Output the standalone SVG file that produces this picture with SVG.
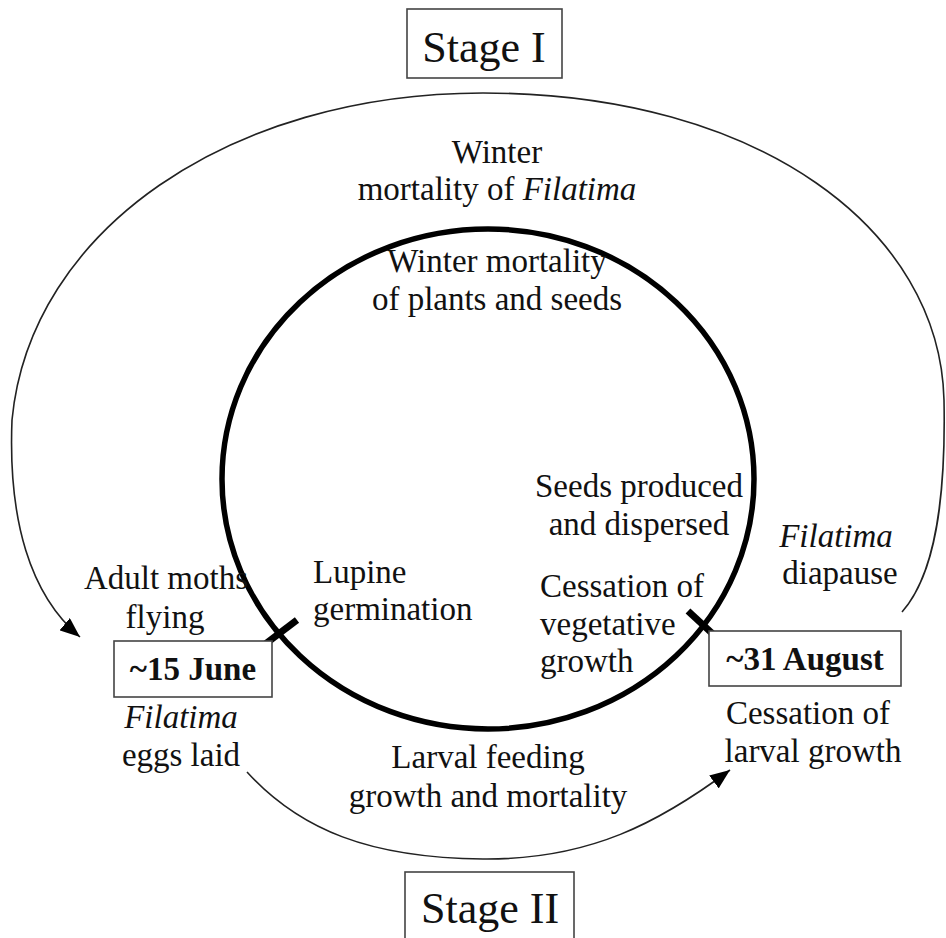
<svg xmlns="http://www.w3.org/2000/svg" width="946" height="938" viewBox="0 0 946 938">
<style>
.t{font-family:"Liberation Serif","Times New Roman",serif;font-size:33px;fill:#111}
.c{text-anchor:middle}
.b{font-weight:bold}
.i{font-style:italic}
.st{font-family:"Liberation Serif","Times New Roman",serif;font-size:44px;fill:#111;text-anchor:middle}
.box{fill:#fff;stroke:#444;stroke-width:1.6}
.conn{fill:none;stroke:#222;stroke-width:1.6}
.tick{stroke:#000;stroke-width:7}
</style>
<defs>
<marker id="arr" viewBox="0 0 20 16" refX="20" refY="8" markerWidth="20" markerHeight="16" orient="auto" markerUnits="userSpaceOnUse"><path d="M0,0 L20,8 L0,16 z" fill="#000"/></marker>
</defs>
<rect width="946" height="938" fill="#fff"/>
<g id="connectors">
<path class="conn" d="M 902,612 C 935,575 946,500 944,400 C 940,230 760,93 483,93 C 230,93 30,230 12,420 C 8,520 30,595 80,637" marker-end="url(#arr)"/>
<path class="conn" d="M 247,772 C 300,830 370,858 483,859 C 590,860 660,822 730,770" marker-end="url(#arr)"/>
</g>
<g id="cycle">
<ellipse cx="488" cy="479" rx="266" ry="250" fill="none" stroke="#000" stroke-width="5.5"/>
<line class="tick" x1="264" y1="645" x2="297" y2="620"/>
<line class="tick" x1="688" y1="611" x2="715" y2="636"/>
</g>
<g id="stage1">
<rect class="box" x="407" y="9" width="155" height="69"/>
<text class="st" x="484" y="62">Stage I</text>
</g>
<g id="stage2">
<rect class="box" x="405" y="872" width="169" height="80"/>
<text class="st" x="490" y="923">Stage II</text>
</g>
<g id="winter-filatima">
<text class="t c" x="497" y="163">Winter</text>
<text class="t c" x="497" y="200">mortality of <tspan class="i">Filatima</tspan></text>
</g>
<g id="winter-plants">
<text class="t c" x="497" y="272">Winter mortality</text>
<text class="t c" x="497" y="310">of plants and seeds</text>
</g>
<g id="seeds">
<text class="t c" x="639" y="497">Seeds produced</text>
<text class="t c" x="639" y="535">and dispersed</text>
</g>
<g id="diapause">
<text class="t c i" x="836" y="547">Filatima</text>
<text class="t c" x="840" y="584">diapause</text>
</g>
<g id="adult">
<text class="t c" x="166" y="589">Adult moths</text>
<text class="t c" x="165" y="628">flying</text>
</g>
<g id="lupine">
<text class="t" x="313" y="583">Lupine</text>
<text class="t" x="313" y="620">germination</text>
</g>
<g id="cessation-veg">
<text class="t" x="540" y="597">Cessation of</text>
<text class="t" x="540" y="635">vegetative</text>
<text class="t" x="540" y="672">growth</text>
</g>
<g id="june">
<rect class="box" x="114" y="641" width="158" height="56"/>
<text class="t c b" x="193" y="680">~15 June</text>
</g>
<g id="august">
<rect class="box" x="709" y="631" width="192" height="55"/>
<text class="t c b" x="805" y="670">~31 August</text>
</g>
<g id="eggs">
<text class="t c i" x="181" y="728">Filatima</text>
<text class="t c" x="181" y="766">eggs laid</text>
</g>
<g id="cessation-larval">
<text class="t c" x="808" y="724">Cessation of</text>
<text class="t c" x="813" y="762">larval growth</text>
</g>
<g id="larval">
<text class="t c" x="488" y="768">Larval feeding</text>
<text class="t c" x="488" y="807">growth and mortality</text>
</g>
</svg>
